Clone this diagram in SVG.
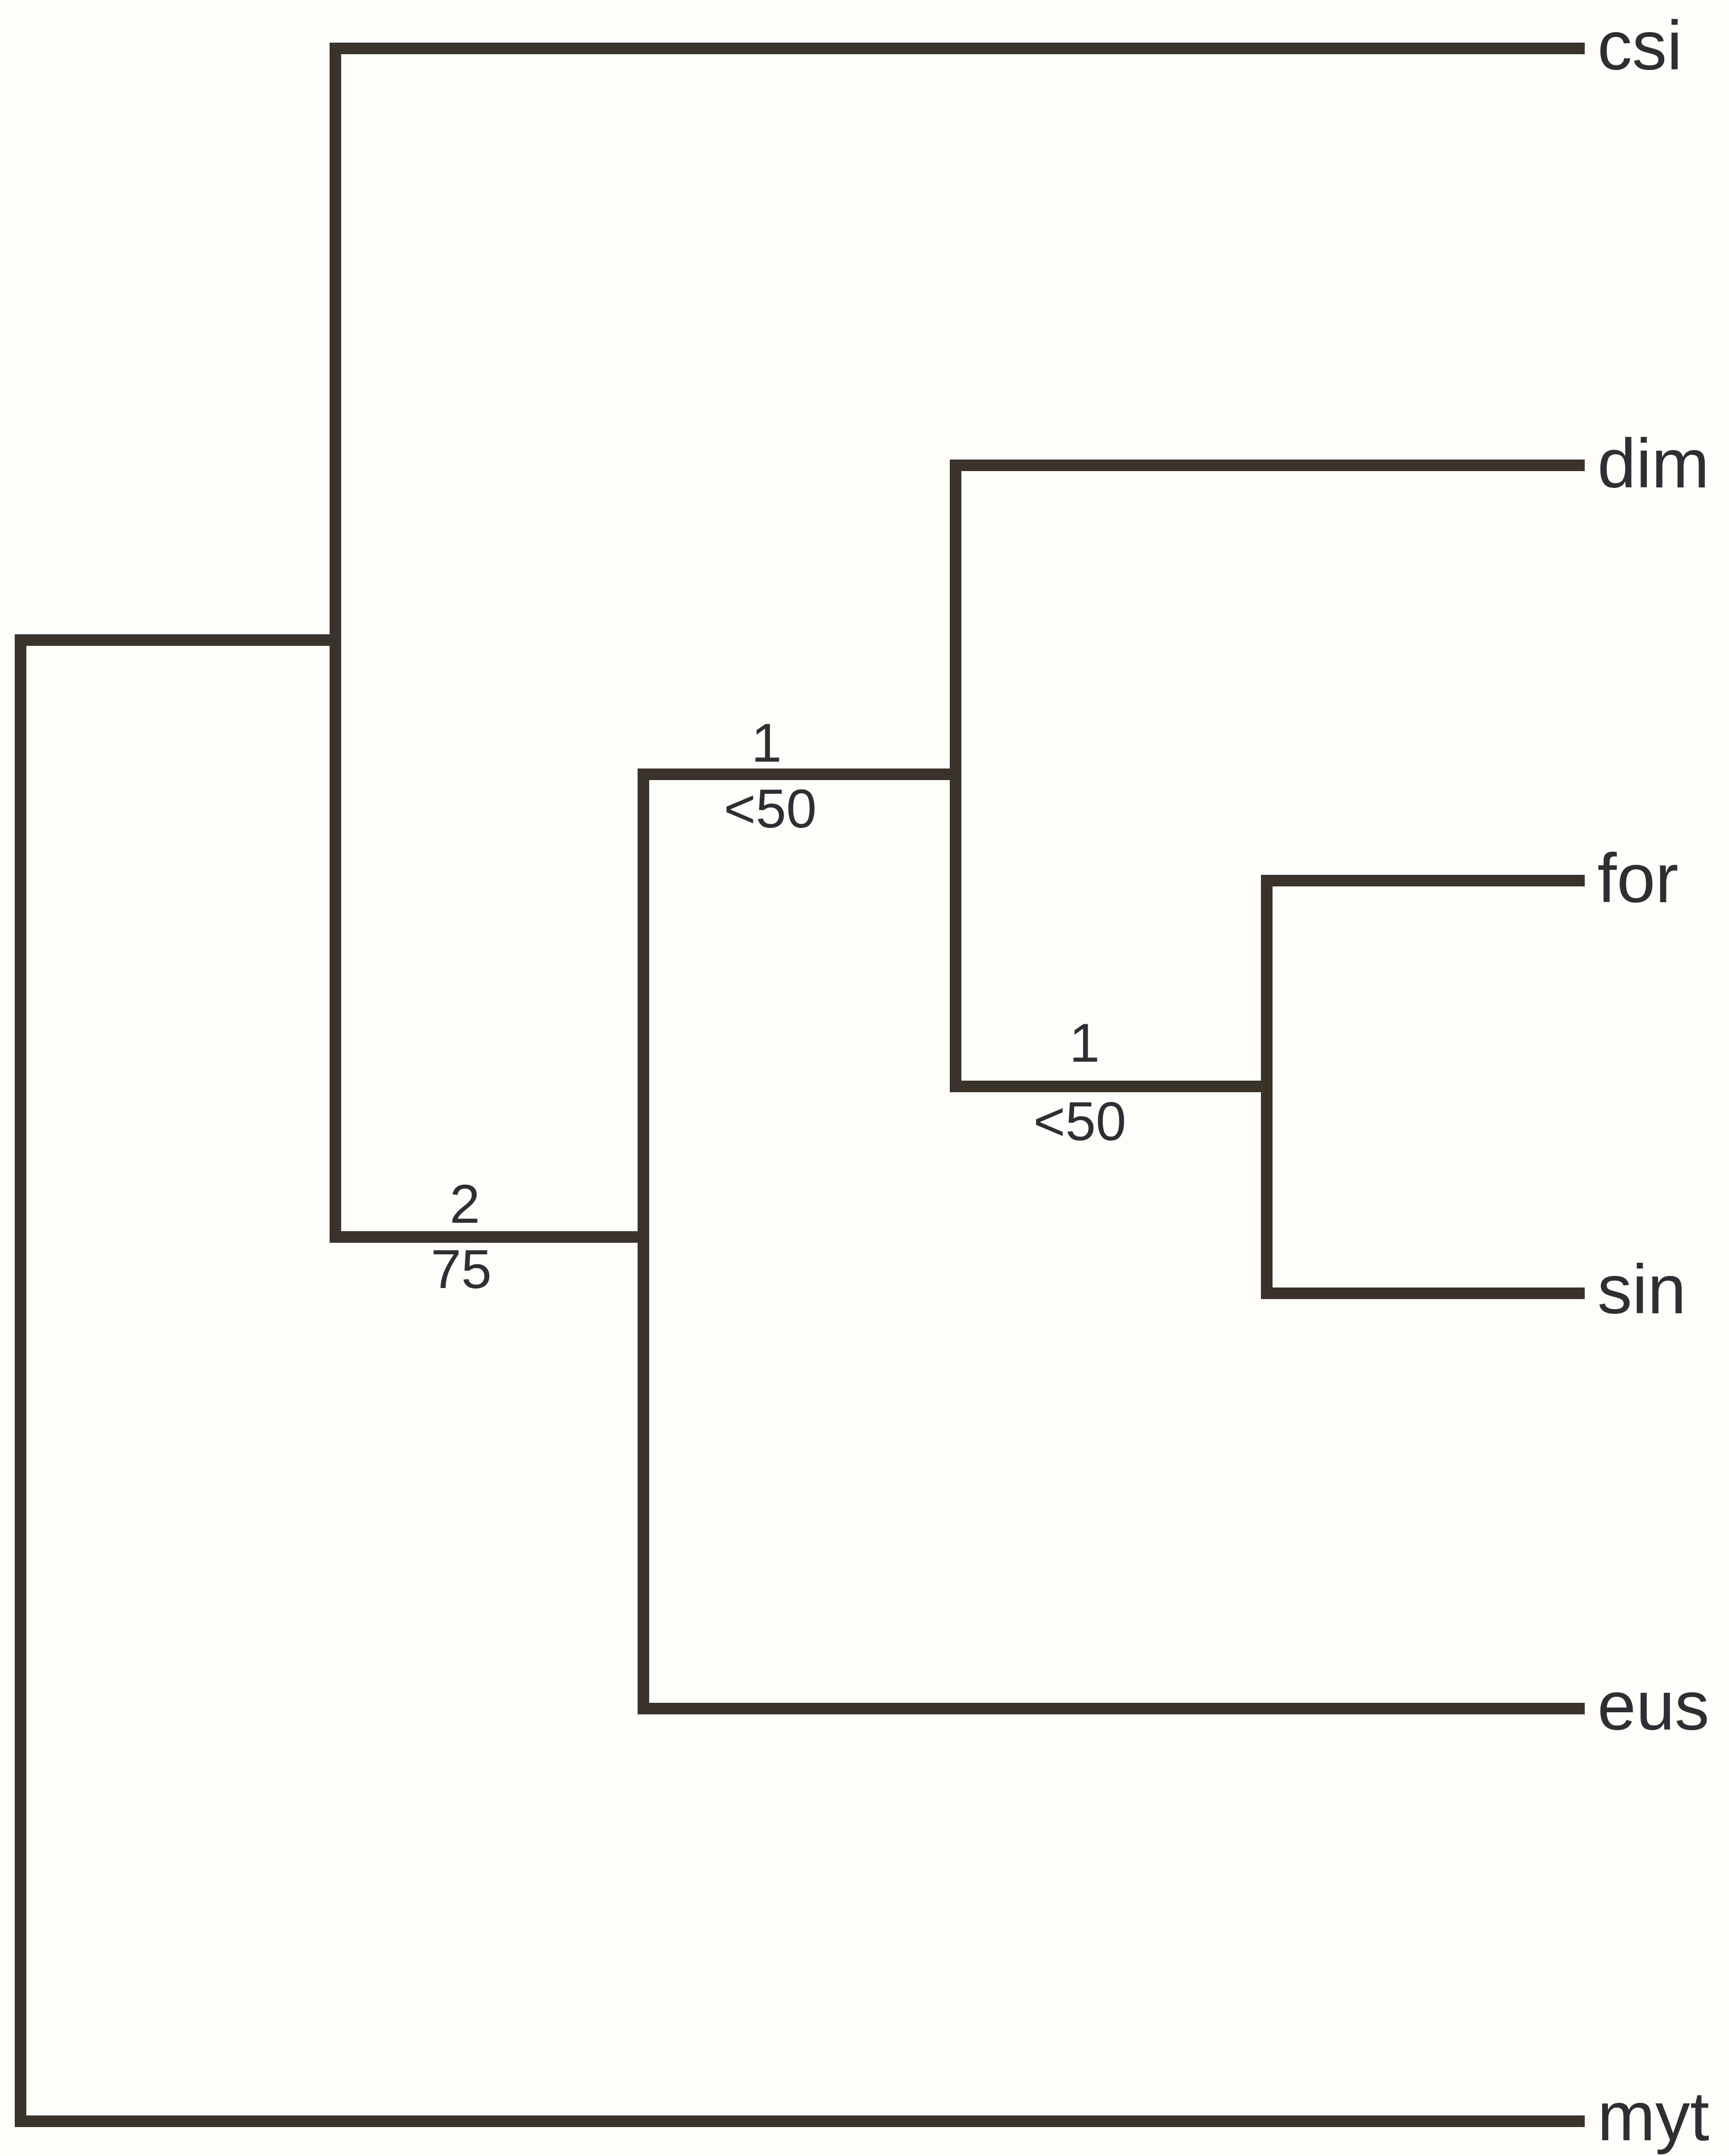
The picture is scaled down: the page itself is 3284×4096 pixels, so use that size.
<svg xmlns="http://www.w3.org/2000/svg" width="3284" height="4096" viewBox="0 0 3284 4096">
  <style>
    .br { fill: none; stroke: #3a332b; stroke-width: 22; stroke-linejoin: miter; stroke-linecap: butt; }
    .leaf { font-family: "Liberation Sans", Arial, sans-serif; font-size: 132px; fill: #2f2e33; }
    .sup { font-family: "Liberation Sans", Arial, sans-serif; font-size: 104px; fill: #2f2e33; text-anchor: middle; }
  </style>
  <rect x="0" y="0" width="3284" height="4096" fill="#fefdf9"/>

  <!-- tree branches (rectangular cladogram) -->
  <g id="connectors">
    <!-- root: joins ingroup clade and myt -->
    <path id="e-root" class="br" d="M 637 1216 H 39 V 4030 H 3010"/>
    <!-- clade csi + rest -->
    <path id="e-n1" class="br" d="M 3010 92 H 637 V 2350 H 1222"/>
    <!-- clade (dim, for, sin) + eus -->
    <path id="e-n2" class="br" d="M 1815 1471 H 1222 V 3246 H 3010"/>
    <!-- clade dim + (for, sin) -->
    <path id="e-n3" class="br" d="M 3010 884 H 1815 V 2064 H 2406"/>
    <!-- clade for + sin -->
    <path id="e-n4" class="br" d="M 3010 1673 H 2406 V 2457 H 3010"/>
  </g>

  <!-- terminal taxa -->
  <g id="csi"><text class="leaf" x="3034" y="132">csi</text></g>
  <g id="dim"><text class="leaf" x="3034" y="926">dim</text></g>
  <g id="for"><text class="leaf" x="3034" y="1714">for</text></g>
  <g id="sin"><text class="leaf" x="3034" y="2495">sin</text></g>
  <g id="eus"><text class="leaf" x="3034" y="3286">eus</text></g>
  <g id="myt"><text class="leaf" x="3034" y="4066">myt</text></g>

  <!-- branch support: decay index above, bootstrap below -->
  <g id="support-n2">
    <text class="sup" x="883" y="2323">2</text>
    <text class="sup" x="876" y="2447">75</text>
  </g>
  <g id="support-n3">
    <text class="sup" x="1456" y="1447">1</text>
    <text class="sup" x="1463" y="1572">&lt;50</text>
  </g>
  <g id="support-n4">
    <text class="sup" x="2060" y="2017">1</text>
    <text class="sup" x="2051" y="2166">&lt;50</text>
  </g>
</svg>
